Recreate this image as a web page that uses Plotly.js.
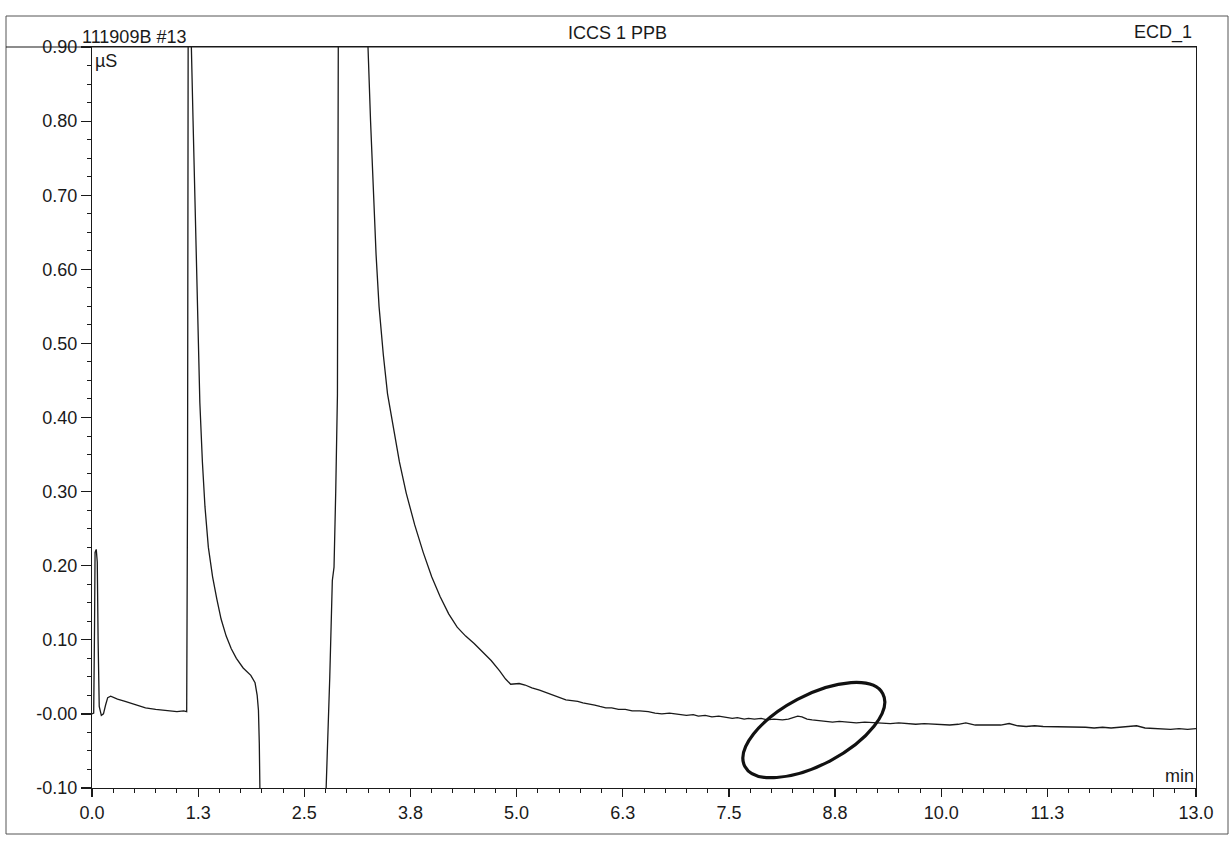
<!DOCTYPE html>
<html>
<head>
<meta charset="utf-8">
<script src="https://cdn.plot.ly/plotly-3.0.1.min.js"></script>
<style>
  html, body { margin: 0; padding: 0; background: #fff; }
  #chart { width: 1232px; height: 844px; }
</style>
</head>
<body>
<div id="chart"></div>
<script>
// ---- Data (retention time in min, conductivity in µS) ----
const time = [
  0.000, 0.020, 0.030, 0.036, 0.050, 0.062, 0.072, 0.085, 0.110, 0.135, 0.160, 0.185,
  0.220, 0.300, 0.390, 0.500, 0.630, 0.750, 0.900, 1.000, 1.080, 1.115,
  1.125, 1.135, 1.145, 1.160, 1.170, 1.190, 1.210, 1.230, 1.250, 1.270, 1.300, 1.330,
  1.370, 1.420, 1.470, 1.520, 1.580, 1.640, 1.700, 1.780, 1.870, 1.920, 1.945, 1.960,
  1.970, 1.980, 2.000,
  2.700, 2.760, 2.800, 2.830, 2.850, 2.870, 2.890, 2.900, 2.950, 3.000, 3.200, 3.250,
  3.280, 3.310, 3.345, 3.380, 3.430, 3.480, 3.550, 3.620, 3.700, 3.800, 3.900, 4.000,
  4.100, 4.200, 4.300, 4.400, 4.500, 4.600, 4.700, 4.800, 4.870, 4.930, 4.980, 5.030,
  5.100, 5.180, 5.270, 5.340, 5.400,
  5.470, 5.520, 5.580, 5.650, 5.720, 5.780, 5.850, 5.920, 5.980, 6.050, 6.120, 6.200,
  6.280, 6.360, 6.450, 6.550, 6.630, 6.710, 6.800, 6.900, 7.000, 7.080, 7.140, 7.220,
  7.300, 7.380, 7.460, 7.540, 7.600, 7.680, 7.730, 7.800, 7.880, 7.950, 8.030, 8.130,
  8.200, 8.260, 8.310, 8.360, 8.420, 8.480, 8.550, 8.620, 8.720, 8.800, 8.910, 9.000,
  9.100, 9.200, 9.300, 9.400, 9.500, 9.600, 9.700, 9.800, 9.900, 10.000, 10.100, 10.200,
  10.290, 10.400, 10.500, 10.600, 10.700, 10.800, 10.900, 11.000, 11.100, 11.200, 11.300, 11.400,
  11.500, 11.600, 11.700, 11.800, 11.900, 12.000, 12.100, 12.200, 12.300, 12.400, 12.500, 12.600,
  12.700, 12.800, 12.900, 13.000
];
const signal = [
  0.000, 0.001, 0.120, 0.218, 0.222, 0.205, 0.100, 0.010, -0.002, 0.000, 0.012, 0.022,
  0.024, 0.020, 0.017, 0.013, 0.008, 0.006, 0.004, 0.003, 0.004, 0.003,
  0.300, 1.000, 2.000, 1.600, 0.900, 0.800, 0.700, 0.600, 0.500, 0.420, 0.340, 0.280,
  0.225, 0.185, 0.155, 0.128, 0.105, 0.088, 0.075, 0.062, 0.052, 0.042, 0.025, 0.005,
  -0.040, -0.100, -0.300,
  -0.300, -0.100, 0.050, 0.180, 0.198, 0.300, 0.430, 0.900, 2.000, 2.500, 1.200, 0.900,
  0.800, 0.710, 0.620, 0.550, 0.485, 0.432, 0.383, 0.340, 0.298, 0.255, 0.218, 0.185,
  0.158, 0.135, 0.117, 0.105, 0.095, 0.084, 0.072, 0.058, 0.047, 0.040, 0.041, 0.041,
  0.039, 0.035, 0.032, 0.029, 0.026,
  0.024, 0.021, 0.019, 0.018, 0.017, 0.015, 0.014, 0.012, 0.010, 0.008, 0.008, 0.006,
  0.006, 0.004, 0.004, 0.003, 0.001, 0.000, 0.001, -0.001, -0.002, -0.001, -0.003, -0.002,
  -0.004, -0.003, -0.004, -0.006, -0.005, -0.007, -0.006, -0.007, -0.006, -0.008, -0.007, -0.008,
  -0.007, -0.005, -0.003, -0.004, -0.007, -0.008, -0.009, -0.010, -0.011, -0.010, -0.011, -0.012,
  -0.011, -0.012, -0.012, -0.013, -0.012, -0.013, -0.014, -0.013, -0.014, -0.014, -0.015, -0.014,
  -0.012, -0.015, -0.015, -0.016, -0.015, -0.013, -0.016, -0.017, -0.016, -0.017, -0.017, -0.018,
  -0.017, -0.018, -0.018, -0.019, -0.018, -0.019, -0.018, -0.017, -0.016, -0.019, -0.020, -0.020,
  -0.021, -0.020, -0.021, -0.020
];

// ---- Tick labels ----
const xTickVals = [0, 1.25, 2.5, 3.75, 5, 6.25, 7.5, 8.75, 10, 11.25, 12.5, 13];
const xTickText = ["0.0", "1.3", "2.5", "3.8", "5.0", "6.3", "7.5", "8.8", "10.0", "11.3", "", "13.0"];
const yTickVals = [-0.1, 0, 0.1, 0.2, 0.3, 0.4, 0.5, 0.6, 0.7, 0.8, 0.9];
const yTickText = ["-0.10", "-0.00", "0.10", "0.20", "0.30", "0.40", "0.50", "0.60", "0.70", "0.80", "0.90"];

// ---- Header texts ----
const sampleName = "111909B #13";
const chartTitle = "ICCS 1 PPB";
const channelName = "ECD_1";
const yUnit = "µS";
const xUnit = "min";

// ---- Geometry (pixels) ----
const W = 1232, H = 844;
const plotL = 92, plotR = 1196, plotT = 47, plotB = 788;
const frameL = 6, frameR = 1228, frameT = 16, frameB = 834;
const pw = plotR - plotL, ph = plotB - plotT;
const px2paper = x => (x - plotL) / pw;
const py2paper = y => (plotB - y) / ph;

// hand-drawn ellipse (annotation) in data units: centre, half-axis vectors
const ellC = [8.50, -0.0218], ellU = [0.812, 0.0491], ellV = [0.193, -0.0415];
function ellipsePath(C, U, V) {
  const k = 0.5523;
  const P = (a, b) => [C[0] + a * U[0] + b * V[0], C[1] + a * U[1] + b * V[1]];
  const f = p => p[0].toFixed(4) + "," + p[1].toFixed(5);
  const P0 = P(1, 0), P1 = P(0, 1), P2 = P(-1, 0), P3 = P(0, -1);
  return "M" + f(P0) +
    " C" + f(P(1, k)) + " " + f(P(k, 1)) + " " + f(P1) +
    " C" + f(P(-k, 1)) + " " + f(P(-1, k)) + " " + f(P2) +
    " C" + f(P(-1, -k)) + " " + f(P(-k, -1)) + " " + f(P3) +
    " C" + f(P(k, -1)) + " " + f(P(1, -k)) + " " + f(P0) + " Z";
}

const ink = "#1a1a1a";
const fontFam = "Liberation Sans, Arial, Helvetica, sans-serif";
const fs = 18;

const trace = {
  x: time, y: signal, type: "scatter", mode: "lines",
  line: { color: ink, width: 1.3 }, hoverinfo: "skip", cliponaxis: true
};

const layout = {
  width: W, height: H,
  margin: { l: plotL, r: W - plotR, t: plotT, b: H - plotB, pad: 0 },
  paper_bgcolor: "#ffffff", plot_bgcolor: "#ffffff",
  showlegend: false,
  font: { family: fontFam, size: fs, color: ink },
  xaxis: {
    range: [0, 13], tickmode: "array", tickvals: xTickVals, ticktext: xTickText,
    ticks: "outside", ticklen: 8, tickwidth: 1.2, tickcolor: ink,
    showline: true, linecolor: ink, linewidth: 1.2, mirror: true,
    showgrid: false, zeroline: false, fixedrange: true,
    tickfont: { family: fontFam, size: fs, color: ink },
    minor: { tickmode: "linear", tick0: 0, dtick: 0.25, ticks: "outside", ticklen: 4, tickwidth: 1, tickcolor: ink, showgrid: false }
  },
  yaxis: {
    range: [-0.1, 0.9], tickmode: "array", tickvals: yTickVals, ticktext: yTickText,
    ticks: "outside", ticklen: 10, tickwidth: 1.2, tickcolor: ink,
    showline: true, linecolor: ink, linewidth: 1.2, mirror: true,
    showgrid: false, zeroline: false, fixedrange: true,
    tickfont: { family: fontFam, size: fs, color: ink },
    minor: { tickmode: "linear", tick0: 0, dtick: 0.025, ticks: "outside", ticklen: 4, tickwidth: 1, tickcolor: ink, showgrid: false }
  },
  shapes: [
    { type: "rect", xref: "paper", yref: "paper",
      x0: px2paper(frameL), x1: px2paper(frameR), y0: py2paper(frameB), y1: py2paper(frameT),
      line: { color: "#555", width: 1 }, fillcolor: "rgba(0,0,0,0)", layer: "below" },
    { type: "line", xref: "paper", yref: "paper",
      x0: px2paper(frameL), x1: 1, y0: 1, y1: 1, line: { color: ink, width: 1.2 } },
    { type: "path", xref: "x", yref: "y", path: ellipsePath(ellC, ellU, ellV),
      line: { color: "#111", width: 3.2 }, fillcolor: "rgba(0,0,0,0)" }
  ],
  annotations: [
    { text: sampleName, xref: "paper", yref: "paper", x: px2paper(80), y: 1,
      xanchor: "left", yanchor: "bottom", showarrow: false, yshift: -2,
      font: { family: fontFam, size: fs, color: ink } },
    { text: chartTitle, xref: "paper", yref: "paper", x: px2paper(617), y: 1,
      xanchor: "center", yanchor: "bottom", showarrow: false, yshift: 2,
      font: { family: fontFam, size: fs, color: ink } },
    { text: channelName, xref: "paper", yref: "paper", x: 1, y: 1,
      xanchor: "right", yanchor: "bottom", showarrow: false, yshift: 2, xshift: -2,
      font: { family: fontFam, size: fs, color: ink } },
    { text: yUnit, xref: "paper", yref: "paper", x: 0, y: 1,
      xanchor: "left", yanchor: "top", showarrow: false, xshift: 1, yshift: -2,
      font: { family: fontFam, size: fs, color: ink } },
    { text: xUnit, xref: "paper", yref: "paper", x: 1, y: 0,
      xanchor: "right", yanchor: "bottom", showarrow: false,
      font: { family: fontFam, size: fs, color: ink } }
  ]
};

Plotly.newPlot("chart", [trace], layout, { displayModeBar: false, staticPlot: true });
</script>
</body>
</html>
